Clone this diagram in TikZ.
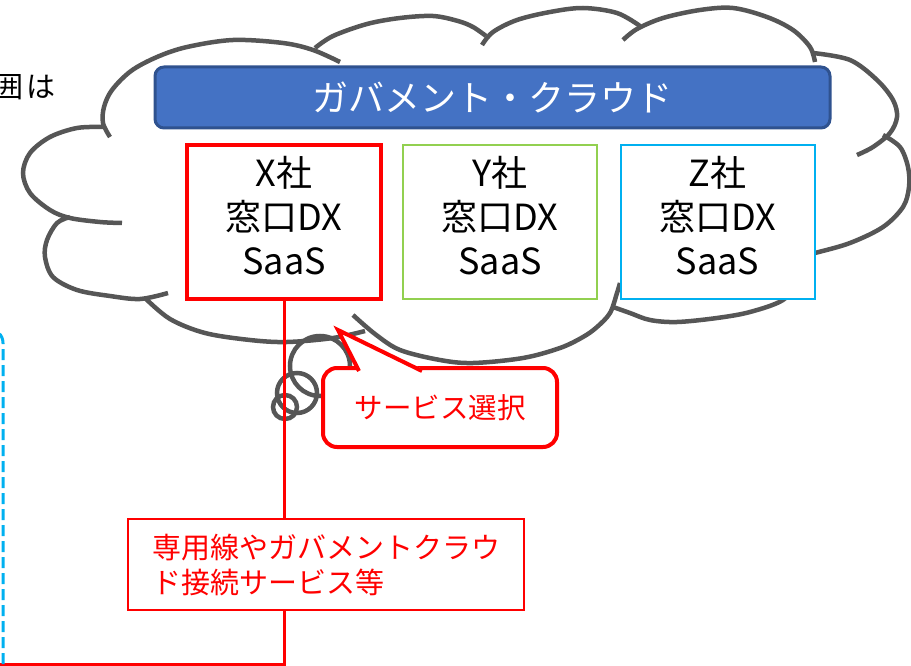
\documentclass[tikz,border=0pt]{standalone}
\usepackage{fontspec}
\setmainfont{Noto Sans CJK JP}
\definecolor{cloudgray}{RGB}{86,86,86}
\definecolor{govblue}{RGB}{68,114,196}
\definecolor{govedge}{RGB}{47,82,143}
\definecolor{ygreen}{RGB}{146,208,80}
\definecolor{zcyan}{RGB}{0,176,240}
\definecolor{xred}{RGB}{255,0,0}

\tikzset{
  cloudline/.style={draw=cloudgray, line width=4.5pt},
  govbar/.style={draw=govedge, fill=govblue, line width=3pt, rounded corners=9pt,
    minimum width=675pt, minimum height=61pt, text=white, font=\fontsize{36}{40}\selectfont},
  saasbox/.style={fill=white, minimum width=194pt, minimum height=154pt,
    inner sep=0pt, font=\fontsize{36}{44}\selectfont},
  pickbox/.style={draw=xred, fill=white, line width=4pt, rounded corners=14pt,
    minimum width=234pt, minimum height=79pt, text=xred, font=\fontsize{28.5}{34}\selectfont},
  linkbox/.style={draw=xred, fill=white, line width=2pt, minimum width=396pt,
    minimum height=91pt, align=left, text=xred, font=\fontsize{29}{35}\selectfont},
  redline/.style={draw=xred, line width=3pt},
  bluedash/.style={draw=zcyan, line width=3pt, dash pattern=on 11pt off 5pt},
}
\newcommand{\saastext}[1]{\raisebox{3.5pt}{\begin{tabular}{@{}c@{}}#1社\\窓口DX\\SaaS\end{tabular}}}

\begin{document}
\begin{tikzpicture}[x=1pt, y=-1pt]
  \useasboundingbox (0,0) rectangle (911,666);

  % text cut by the left edge
  \node[anchor=east, inner sep=0pt, font=\fontsize{29}{29}\selectfont] (remark) at (56,87) {囲\kern3pt は};

  % cloud, one lobe after another
  \draw[cloudline] plot[smooth, tension=0.55] coordinates {(103,127) (77,128) (50,137) (30,153) (23,173) (30,193) (50,210) (70,218) (100,222) (122,223)};
  \draw[cloudline] plot[smooth, tension=0.55] coordinates {(110,137) (103,123) (104,107) (112,90) (131,71) (157,57) (187,47) (233,40) (283,43) (313,50) (340,62)};
  \draw[cloudline] plot[smooth, tension=0.55] coordinates {(315,48) (333,36) (367,24) (400,18) (433,16) (458,21) (473,27) (486,36)};
  \draw[cloudline] plot[smooth, tension=0.55] coordinates {(482,45) (493,32) (517,20) (550,12) (583,8) (617,13) (640,26)};
  \draw[cloudline] plot[smooth, tension=0.55] coordinates {(623,40) (637,29) (663,18) (700,10) (733,8) (767,17) (793,30) (810,47) (815,62)};
  \draw[cloudline] plot[smooth, tension=0.55] coordinates {(813,53) (850,60) (877,80) (893,100) (897,117) (890,133) (873,147) (857,155)};
  \draw[cloudline] plot[smooth, tension=0.55] coordinates {(883,135) (900,147) (908,167) (909,187) (903,207) (883,227) (850,243) (815,253) (795,258)};
  \draw[cloudline] plot[smooth, tension=0.55] coordinates {(800,280) (783,300) (750,312) (717,318) (677,322) (650,320) (630,313) (613,307)};
  \draw[cloudline] plot[smooth, tension=0.55] coordinates {(620,283) (617,293) (610,313) (597,327) (583,337) (560,348) (523,358) (473,363) (440,360) (400,350) (375,334) (353,315)};
  \draw[cloudline] plot[smooth, tension=0.55] coordinates {(365,331) (333,338) (287,342) (250,340) (205,333) (170,319) (145,298)};
  \draw[cloudline] plot[smooth, tension=0.55] coordinates {(70,217) (57,223) (47,240) (45,257) (53,277) (77,290) (110,296) (140,299) (168,293)};

  % thought bubbles
  \draw[cloudline] (320,366) circle[radius=30];
  \draw[cloudline] (297,393) circle[radius=20];
  \draw[cloudline] (285,407) circle[radius=12];

  % banner and the three SaaS
  \node[govbar] (gov) at (492.5,97.5) {ガバメント・クラウド};
  \node[saasbox, draw=xred, line width=3.5pt] (xsaas) at (284,222) {\saastext{X}};
  \node[saasbox, draw=ygreen, line width=2pt] (ysaas) at (500,222) {\saastext{Y}};
  \node[saasbox, draw=zcyan, line width=2pt] (zsaas) at (717.5,222) {\saastext{Z}};

  % connection down and to the left
  \coordinate (leftend) at (-2,664);
  \draw[redline] (xsaas.south) |- (leftend);
  \draw[bluedash] (3,664) -- (3,343) arc[start angle=0, end angle=-45, radius=14];

  % callout
  \node[pickbox] (select) at (440,407.5) {サービス選択};
  \coordinate (tipl) at (358,368);
  \coordinate (tip) at (338,330);
  \coordinate (tipr) at (420,368);
  \fill[white] (tipl) -- (tip) -- (tipr) -- (420,372) -- (358,372) -- cycle;
  \draw[xred, line width=4pt] (359,371) -- (tip) -- (422,371);

  % line label
  \node[linkbox] (route) at (326,564.5) {専用線やガバメントクラウ\\ド接続サービス等};
\end{tikzpicture}
\end{document}
